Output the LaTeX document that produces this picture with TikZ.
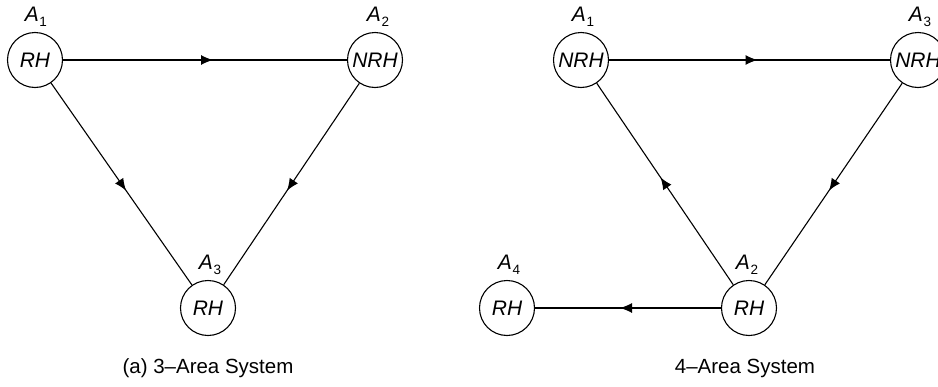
\documentclass[tikz,border=0pt]{standalone}
\usepackage{fontspec}
\setmainfont{Liberation Sans}
\usetikzlibrary{arrows.meta,decorations.markings}
\newcommand{\arealbl}[1]{\textit{A}\kern0.5pt\raisebox{-0.45ex}{\fontsize{13.5}{14}\selectfont #1}}
\begin{document}
\begin{tikzpicture}[x=1pt,y=-1pt,
  area/.style={circle,draw,line width=1.1pt,minimum size=55pt,inner sep=0pt,font=\fontsize{21}{22}\selectfont\itshape},
  arealabel/.style={font=\fontsize{21}{22}\selectfont,anchor=south,inner sep=0pt},
  flow/.style={line width=1.1pt,postaction={decorate},decoration={markings,mark=at position 0.5 with {\arrow[xshift=8pt]{Latex[length=12pt,width=10pt]}}}},
  caption/.style={font=\fontsize{20.5}{22}\selectfont}]
\useasboundingbox (0,0) rectangle (938,386);
% (a) 3-area
\node[area] (l1) at (35,60) {RH};
\node[area] (l2) at (375,60) {NRH};
\node[area] (l3) at (208,308) {RH};
\node[arealabel] (l1t) at (36,27) {\arealbl{1}};
\node[arealabel] (l2t) at (378,27) {\arealbl{2}};
\node[arealabel] (l3t) at (210,275) {\arealbl{3}};
\draw[flow] (l1) -- (l2);
\draw[flow] (l1) -- (l3);
\draw[flow] (l2) -- (l3);
\node[caption] (capa) at (208,368) {(a) 3–Area System};
% 4-area
\node[area] (r1) at (581,60) {NRH};
\node[area] (r3) at (918,60) {NRH};
\node[area] (r2) at (749,308) {RH};
\node[area] (r4) at (507,308) {RH};
\node[arealabel] (r1t) at (583,27) {\arealbl{1}};
\node[arealabel] (r3t) at (920,27) {\arealbl{3}};
\node[arealabel] (r2t) at (747,275) {\arealbl{2}};
\node[arealabel] (r4t) at (509,275) {\arealbl{4}};
\draw[flow] (r1) -- (r3);
\draw[flow] (r3) -- (r2);
\draw[flow] (r2) -- (r1);
\draw[flow] (r2) -- (r4);
\node[caption] (capb) at (745,368) {4–Area System};
\end{tikzpicture}
\end{document}
